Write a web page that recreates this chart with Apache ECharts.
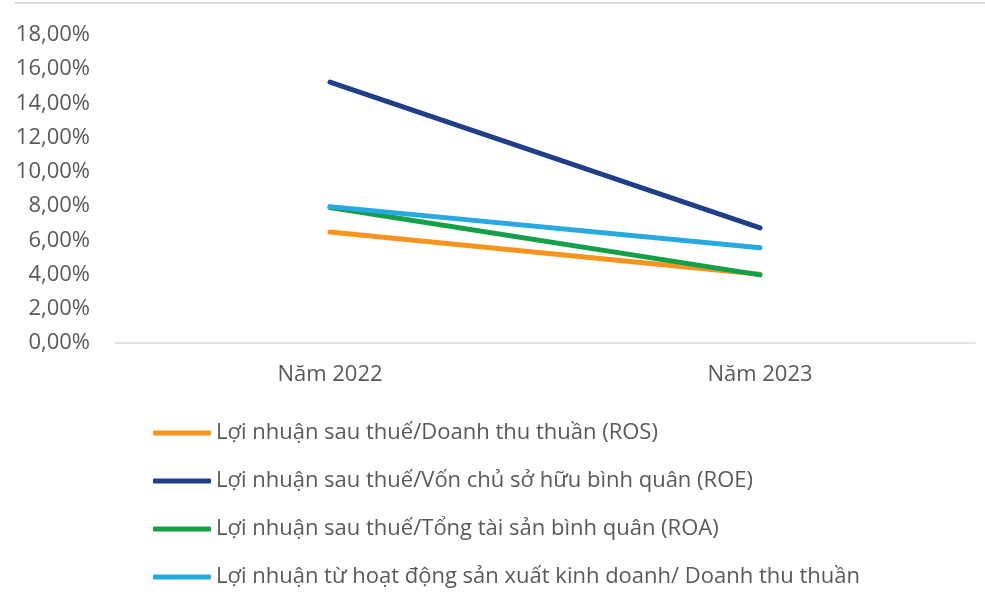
<!DOCTYPE html>
<html lang="vi">
<head>
    <meta charset="UTF-8">
    <script src="https://cdn.jsdelivr.net/npm/echarts@6/dist/echarts.min.js"></script>
    <title>Chart</title>
    <style>
        html, body {
            margin: 0;
            padding: 0;
            width: 100%;
            height: 100%;
            overflow: hidden;
            background: #fff;
        }
        #chart {
            width: 985px;
            height: 608px;
        }
    </style>
</head>
<body>
<div id="chart"></div>
<script>
    var categories = ['Năm 2022', 'Năm 2023'];
    var seriesNames = [
        'Lợi nhuận sau thuế/Doanh thu thuần (ROS)',
        'Lợi nhuận sau thuế/Vốn chủ sở hữu bình quân (ROE)',
        'Lợi nhuận sau thuế/Tổng tài sản bình quân (ROA)',
        'Lợi nhuận từ hoạt động sản xuất kinh doanh/ Doanh thu thuần'
    ];
    var ros = [6.49, 4.02];
    var roe = [15.25, 6.73];
    var roa = [7.92, 3.98];
    var opMargin = [7.97, 5.57];
    var colors = ['#F7941D', '#203F88', '#13A049', '#27AAE1'];

    var font = 'Open Sans';
    var myChart = echarts.init(document.getElementById('chart'));

    function lineSeries(name, data, color) {
        return {
            name: name,
            type: 'line',
            data: data,
            showSymbol: false,
            symbol: 'none',
            lineStyle: {width: 5, color: color, cap: 'round'},
            itemStyle: {color: color},
            emphasis: {disabled: true}
        };
    }

    var option = {
        color: colors,
        animation: false,
        textStyle: {fontFamily: font},
        grid: {left: 115, right: 10, top: 35, bottom: 265},
        graphic: [{
            type: 'line',
            shape: {x1: 15, y1: 3, x2: 985, y2: 3},
            style: {stroke: '#dcdcdc', lineWidth: 2}
        }],
        legend: {
            orient: 'vertical',
            left: 148,
            top: 416,
            itemWidth: 58,
            itemHeight: 5,
            itemGap: 24,
            icon: 'roundRect',
            textStyle: {fontFamily: font, fontSize: 22, color: '#595959', lineHeight: 24},
            data: seriesNames
        },
        xAxis: {
            type: 'category',
            data: categories,
            boundaryGap: true,
            axisLine: {lineStyle: {color: '#d9d9d9', width: 1.5}},
            axisTick: {show: false},
            axisLabel: {margin: 21, fontFamily: font, fontSize: 22, color: '#595959'}
        },
        yAxis: {
            type: 'value',
            min: 0,
            max: 18,
            interval: 2,
            splitLine: {show: false},
            axisLine: {show: false},
            axisTick: {show: false},
            axisLabel: {
                margin: 25,
                fontFamily: font,
                fontSize: 22,
                color: '#595959',
                formatter: function (v) {
                    return v.toFixed(2).replace('.', ',') + '%';
                }
            }
        },
        series: [
            lineSeries(seriesNames[0], ros, colors[0]),
            lineSeries(seriesNames[1], roe, colors[1]),
            lineSeries(seriesNames[2], roa, colors[2]),
            lineSeries(seriesNames[3], opMargin, colors[3])
        ]
    };
    myChart.setOption(option);
</script>
</body>
</html>
